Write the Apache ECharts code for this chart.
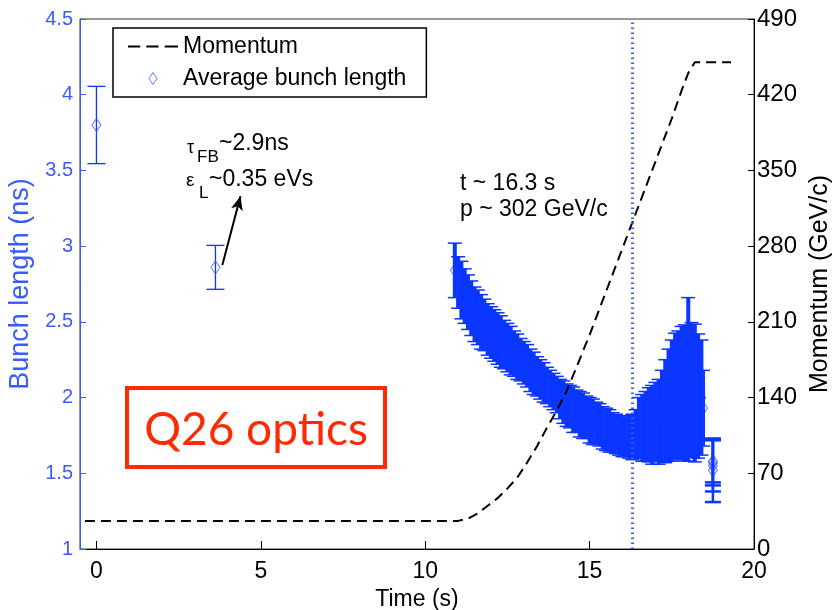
<!DOCTYPE html>
<html>
<head>
<meta charset="utf-8">
<script src="https://cdn.jsdelivr.net/npm/echarts@6/dist/echarts.min.js"></script>
<style>
  html, body { margin: 0; padding: 0; background: #fff; }
  #chart { width: 832px; height: 610px; }
</style>
</head>
<body>
<div id="chart"></div>
<script>
// ---------------- data ----------------
const timeTicks = [0, 5, 10, 15, 20];

// Momentum ramp (right axis, GeV/c)
const momentumTime = [-0.35, 11.0, 11.3, 11.6, 11.9, 12.2, 12.5, 12.8, 13.1, 13.4, 13.7, 14.0, 14.3, 14.6, 15.0, 15.5, 16.0, 16.5, 17.0, 17.5, 17.8, 18.0, 18.2, 19.3];
const momentumValue = [26, 26, 28, 33, 40, 47, 56, 66, 80, 95, 112, 128, 146, 168, 198, 238, 278, 318, 358, 398, 424, 440, 450, 450];

// Isolated measurements before the ramp (time, mean, half error)
const earlyTime = [0, 3.62];
const earlyMean = [3.80, 2.86];
const earlyErr  = [0.255, 0.145];

// Dense measurements along the ramp
const rampTime = [10.9, 11.0, 11.1, 11.2, 11.3, 11.4, 11.5, 11.6, 11.7, 11.8, 11.9,
  12.0, 12.1, 12.2, 12.3, 12.4, 12.5, 12.6, 12.7, 12.8, 12.9,
  13.0, 13.1, 13.2, 13.3, 13.4, 13.5, 13.6, 13.7, 13.8, 13.9,
  14.0, 14.1, 14.2, 14.3, 14.4, 14.5, 14.6, 14.7, 14.8, 14.9,
  15.0, 15.1, 15.2, 15.3, 15.4, 15.5, 15.6, 15.7, 15.8, 15.9,
  16.0, 16.1, 16.2, 16.3, 16.4, 16.5, 16.6, 16.7, 16.8, 16.9,
  17.0, 17.1, 17.2, 17.3, 17.4, 17.5, 17.6, 17.7, 17.8, 17.9,
  18.0, 18.1, 18.2, 18.3, 18.4, 18.45];
const rampMean = [2.84, 2.76, 2.71, 2.67, 2.63, 2.59, 2.55, 2.53, 2.50, 2.48, 2.45,
  2.43, 2.41, 2.39, 2.37, 2.35, 2.33, 2.31, 2.29, 2.27, 2.25,
  2.23, 2.21, 2.18, 2.16, 2.14, 2.12, 2.10, 2.08, 2.06, 2.04,
  2.02, 1.99, 1.97, 1.95, 1.94, 1.92, 1.91, 1.89, 1.88, 1.87,
  1.85, 1.84, 1.83, 1.82, 1.80, 1.79, 1.78, 1.77, 1.76, 1.75,
  1.74, 1.74, 1.74, 1.74, 1.76, 1.80, 1.80, 1.81, 1.82, 1.82,
  1.84, 1.84, 1.88, 1.91, 1.95, 1.98, 2.01, 2.02, 2.03, 2.03,
  2.12, 2.05, 2.03, 2.01, 2.00, 1.93];
const rampErr = [0.18, 0.17, 0.19, 0.18, 0.18, 0.18, 0.18, 0.18, 0.18, 0.17, 0.17,
  0.17, 0.17, 0.17, 0.17, 0.16, 0.16, 0.16, 0.15, 0.15, 0.14,
  0.14, 0.14, 0.14, 0.14, 0.13, 0.13, 0.13, 0.12, 0.12, 0.12,
  0.12, 0.13, 0.14, 0.14, 0.14, 0.15, 0.14, 0.15, 0.15, 0.14,
  0.15, 0.15, 0.14, 0.14, 0.14, 0.14, 0.14, 0.13, 0.13, 0.13,
  0.13, 0.13, 0.14, 0.15, 0.16, 0.20, 0.22, 0.23, 0.245, 0.26,
  0.26, 0.28, 0.30, 0.34, 0.37, 0.40, 0.415, 0.42, 0.44, 0.45,
  0.54, 0.445, 0.455, 0.41, 0.38, 0.25];

// Last measurements after the ramp
const lateTime = [18.75, 18.75, 18.75, 18.75];
const lateMean = [1.57, 1.58, 1.55, 1.52];
const lateErr  = [0.15, 0.14, 0.17, 0.21];

// Annotation anchors (data coordinates)
const markerTime = 16.3;
const arrowFrom = [3.83, 2.875];
const arrowTo = [4.38, 3.33];

// ---------------- chart ----------------
const BLUE = '#0a36ff';
const AXBLUE = '#3a5bff';
const FONT = '"Liberation Sans", Arial, Helvetica, sans-serif';

function zip3(a, b, c) { return a.map((v, i) => [v, b[i], c[i]]); }
const momentumData = momentumTime.map((t, i) => [t, momentumValue[i]]);
const earlyData = zip3(earlyTime, earlyMean, earlyErr);
const rampData = zip3(rampTime, rampMean, rampErr);
const lateData = zip3(lateTime, lateMean, lateErr);
const diamondData = earlyData.concat(rampData, lateData).map(d => [d[0], d[1]]);

function errorBarRenderer(vWidth, capHalf, capWidth) {
  return function (params, api) {
    const t = api.value(0), m = api.value(1), e = api.value(2);
    const top = api.coord([t, m + e]);
    const bot = api.coord([t, m - e]);
    const st = { stroke: BLUE, lineWidth: vWidth };
    const cs = { stroke: BLUE, lineWidth: capWidth };
    return {
      type: 'group',
      children: [
        { type: 'line', shape: { x1: top[0], y1: top[1], x2: bot[0], y2: bot[1] }, style: st },
        { type: 'line', shape: { x1: top[0] - capHalf, y1: top[1], x2: top[0] + capHalf, y2: top[1] }, style: cs },
        { type: 'line', shape: { x1: bot[0] - capHalf, y1: bot[1], x2: bot[0] + capHalf, y2: bot[1] }, style: cs }
      ]
    };
  };
}

const chart = echarts.init(document.getElementById('chart'), null, { renderer: 'canvas' });

const option = {
  animation: false,
  backgroundColor: '#fff',
  textStyle: { fontFamily: FONT },
  grid: {
    left: 80, right: 78, top: 19, bottom: 61, containLabel: false, outerBoundsMode: 'none',
    show: true, borderColor: '#333', borderWidth: 1, backgroundColor: 'transparent'
  },
  legend: {
    left: 113, top: 28, orient: 'vertical',
    padding: [7, 20, 7, 15], itemGap: 9, itemWidth: 50, itemHeight: 12,
    backgroundColor: '#fff', borderColor: '#000', borderWidth: 1.5,
    textStyle: { fontSize: 23, color: '#000', fontFamily: FONT },
    data: [
      { name: 'Momentum', icon: 'path://M0,0h12v2h-12z M18,0h12v2h-12z M36,0h13v2h-13z', itemStyle: { color: '#000', borderWidth: 0 } },
      { name: 'Average bunch length', icon: 'path://M4,0L8,6L4,12L0,6Z', itemStyle: { color: 'transparent', borderColor: AXBLUE, borderWidth: 1 } }
    ],
    selectedMode: false
  },
  xAxis: {
    type: 'value', min: -0.5, max: 20,
    name: 'Time (s)', nameLocation: 'middle', nameGap: 37,
    nameTextStyle: { fontSize: 23, color: '#000', fontFamily: FONT },
    axisLine: { show: true, onZero: false, lineStyle: { color: '#000', width: 1 } },
    axisTick: { show: true, inside: true, length: 8, customValues: timeTicks, lineStyle: { color: '#000' } },
    axisLabel: { customValues: timeTicks, fontSize: 23, color: '#000', margin: 11, fontFamily: FONT },
    splitLine: { show: false }
  },
  yAxis: [
    {
      type: 'value', min: 1, max: 4.5, interval: 0.5, position: 'left',
      name: 'Bunch length (ns)', nameLocation: 'middle', nameGap: 44, nameRotate: 90,
      nameTextStyle: { fontSize: 27, color: AXBLUE, fontFamily: FONT },
      axisLine: { show: true, onZero: false, lineStyle: { color: AXBLUE, width: 1 } },
      axisTick: { show: true, inside: true, length: 6, lineStyle: { color: AXBLUE } },
      axisLabel: { fontSize: 20, color: AXBLUE, margin: 7, fontFamily: FONT },
      splitLine: { show: false }
    },
    {
      type: 'value', min: 0, max: 490, interval: 70, position: 'right',
      name: 'Momentum (GeV/c)', nameLocation: 'middle', nameGap: 54, nameRotate: 90,
      nameTextStyle: { fontSize: 25, color: '#000', fontFamily: FONT },
      axisLine: { show: true, onZero: false, lineStyle: { color: '#000', width: 1 } },
      axisTick: { show: true, inside: true, length: 6, lineStyle: { color: '#000' } },
      axisLabel: { fontSize: 24, color: '#000', margin: 3, fontFamily: FONT },
      splitLine: { show: false }
    }
  ],
  series: [
    {
      name: 'Momentum', type: 'line', yAxisIndex: 1, data: momentumData,
      showSymbol: false, symbol: 'none', smooth: false, z: 3,
      lineStyle: { color: '#000', width: 2, type: [10, 6] },
      itemStyle: { color: '#000' }
    },
    {
      name: 'Average bunch length', type: 'scatter', yAxisIndex: 0, data: diamondData,
      symbol: 'diamond', symbolSize: [9, 13], z: 1,
      itemStyle: { color: 'transparent', borderColor: AXBLUE, borderWidth: 1 },
      markLine: {
        silent: true, animation: false,
        symbol: ['none', 'none'],
        label: { show: false },
        data: [
          [
            { coord: arrowFrom, symbol: 'none', lineStyle: { color: '#000', width: 2, type: 'solid' } },
            { coord: arrowTo, symbol: 'arrow', symbolSize: [9, 14] }
          ],
          { xAxis: markerTime, lineStyle: { color: AXBLUE, width: 3, type: [1.5, 3.5] } }
        ]
      }
    },
    {
      name: 'ramp-errors', type: 'custom', yAxisIndex: 0, data: rampData,
      encode: { x: 0, y: 1 }, renderItem: errorBarRenderer(4, 7, 1.5), z: 2, silent: true
    },
    {
      name: 'early-errors', type: 'custom', yAxisIndex: 0, data: earlyData,
      encode: { x: 0, y: 1 }, renderItem: errorBarRenderer(1.3, 9, 1.3), z: 0, silent: true
    },
    {
      name: 'late-errors', type: 'custom', yAxisIndex: 0, data: lateData,
      encode: { x: 0, y: 1 }, renderItem: errorBarRenderer(2.5, 8, 2.5), z: 2, silent: true
    }
  ],
  graphic: [
    { type: 'text', x: 187, y: 148, style: { text: 'τ', font: '18px ' + FONT, fill: '#000', verticalAlign: 'middle' } },
    { type: 'text', x: 197, y: 157, style: { text: 'FB', font: '17px ' + FONT, fill: '#000', verticalAlign: 'middle' } },
    { type: 'text', x: 219, y: 144, style: { text: '~2.9ns', font: '23px ' + FONT, fill: '#000', verticalAlign: 'middle' } },
    { type: 'text', x: 186, y: 181, style: { text: 'ε', font: '19px ' + FONT, fill: '#000', verticalAlign: 'middle' } },
    { type: 'text', x: 199, y: 193, style: { text: 'L', font: '17px ' + FONT, fill: '#000', verticalAlign: 'middle' } },
    { type: 'text', x: 209, y: 180, style: { text: '~0.35 eVs', font: '23px ' + FONT, fill: '#000', verticalAlign: 'middle' } },
    { type: 'text', x: 460, y: 184, style: { text: 't ~ 16.3 s', font: '23px ' + FONT, fill: '#000', verticalAlign: 'middle' } },
    { type: 'text', x: 460, y: 210, style: { text: 'p ~ 302 GeV/c', font: '23px ' + FONT, fill: '#000', verticalAlign: 'middle' } },
    { type: 'rect', shape: { x: 127, y: 388, width: 258, height: 79 }, style: { fill: '#fff', stroke: '#ff2a00', lineWidth: 4 }, z: 10 },
    { type: 'text', x: 256, y: 430, z: 11, style: { text: 'Q26 optics', font: '46px Lato, "Open Sans", sans-serif', fill: '#ff2a00', align: 'center', verticalAlign: 'middle' } }
  ]
};

chart.setOption(option);
</script>
</body>
</html>
